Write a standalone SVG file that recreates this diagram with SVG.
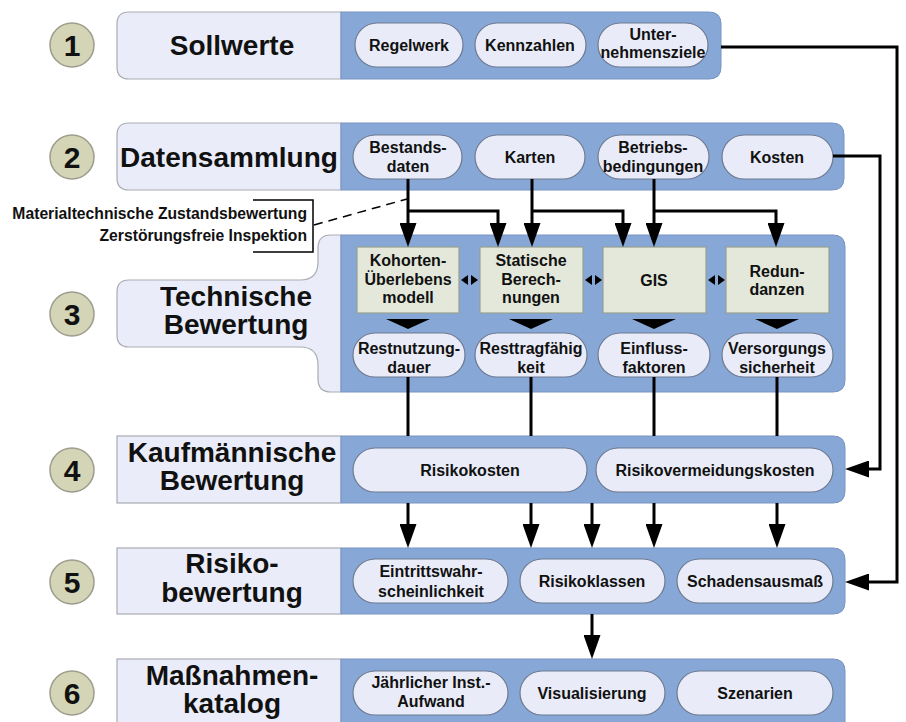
<svg xmlns="http://www.w3.org/2000/svg" width="906" height="722" viewBox="0 0 906 722">
<defs>
<marker id="ah" markerUnits="userSpaceOnUse" markerWidth="24" markerHeight="17" viewBox="0 0 24 17" refX="2" refY="8.5" orient="auto">
<path d="M0,0 L24,8.5 L0,17 Z" fill="#000"/>
</marker>
</defs>
<style>
text{font-family:"Liberation Sans",Arial,sans-serif;font-weight:bold;fill:#111;text-anchor:middle}
.big{font-size:28px}
.num{font-size:30px}
.sm{font-size:16px}
.ann{font-size:15.7px;text-anchor:end}
.circ{fill:#d3d5b6;stroke:#9c9d8c;stroke-width:1.5}
.lite{fill:#eaedf9;stroke:#a9abb3;stroke-width:1.2}
.blue{fill:#87a7d6;stroke:#7895c3;stroke-width:1}
.pill{fill:#e9ecf8;stroke:#6f7a90;stroke-width:1.2}
.grn{fill:#e3e8da;stroke:#96a092;stroke-width:1.2}
.con{fill:none;stroke:#000;stroke-width:3}
.arr{marker-end:url(#ah)}
.tri{fill:#000}
</style>
<rect width="906" height="722" fill="#fff"/>

<g id="row1">
<circle class="circ" cx="72" cy="45" r="22"/>
<text class="num" x="72" y="56">1</text>
<path class="lite" d="M341,12 H129 Q117,12 117,24 V67 Q117,79 129,79 H341 Z"/>
<text class="big" x="232" y="55">Sollwerte</text>
<path class="blue" d="M341,12 H709 Q721,12 721,24 V67 Q721,79 709,79 H341 Z"/>
<g id="regelwerk"><rect class="pill" x="355" y="23" width="108" height="44" rx="22"/><text class="sm" x="409" y="51">Regelwerk</text></g>
<g id="kennzahlen"><rect class="pill" x="475" y="23" width="111" height="44" rx="22"/><text class="sm" x="530" y="51">Kennzahlen</text></g>
<g id="unternehmensziele"><rect class="pill" x="598" y="23" width="110" height="44" rx="22"/><text class="sm" x="653" y="40">Unter-</text><text class="sm" x="653" y="58">nehmensziele</text></g>
</g>

<g id="row2">
<circle class="circ" cx="72" cy="157" r="22"/>
<text class="num" x="72" y="168">2</text>
<path class="lite" d="M341,123 H129 Q117,123 117,135 V178 Q117,190 129,190 H341 Z"/>
<text class="big" x="229" y="167">Datensammlung</text>
<path class="blue" d="M341,123 H832 Q844,123 844,135 V178 Q844,190 832,190 H341 Z"/>
<g id="bestandsdaten"><rect class="pill" x="353" y="135" width="109" height="44" rx="22"/><text class="sm" x="408" y="153">Bestands-</text><text class="sm" x="408" y="172">daten</text></g>
<g id="karten"><rect class="pill" x="475" y="135" width="110" height="44" rx="22"/><text class="sm" x="530" y="163">Karten</text></g>
<g id="betriebsbedingungen"><rect class="pill" x="598" y="135" width="111" height="44" rx="22"/><text class="sm" x="653" y="153">Betriebs-</text><text class="sm" x="653" y="172">bedingungen</text></g>
<g id="kosten"><rect class="pill" x="722" y="135" width="111" height="44" rx="22"/><text class="sm" x="777" y="163">Kosten</text></g>
</g>

<g id="annotation">
<text class="ann" x="307" y="219">Materialtechnische Zustandsbewertung</text>
<text class="ann" x="307" y="241">Zerstörungsfreie Inspektion</text>
<path d="M253,200 H313 V252 H253" fill="none" stroke="#000" stroke-width="1.5"/>
</g>

<g id="row3">
<circle class="circ" cx="72" cy="314" r="22"/>
<text class="num" x="72" y="325">3</text>
<path class="lite" d="M341,235 H331 Q318,235 318,248 V262 Q318,280 300,280 H129 Q117,280 117,292 V335 Q117,347 129,347 H300 Q318,347 318,365 V379 Q318,392 331,392 H341 Z"/>
<text class="big" x="236" y="306">Technische</text>
<text class="big" x="236" y="334">Bewertung</text>
<path class="blue" d="M341,235 H833 Q845,235 845,247 V380 Q845,392 833,392 H341 Z"/>
<g id="kohorten"><rect class="grn" x="357" y="247" width="102" height="66"/><text class="sm" x="408" y="266">Kohorten-</text><text class="sm" x="408" y="285">Überlebens</text><text class="sm" x="408" y="303">modell</text></g>
<g id="statische"><rect class="grn" x="480" y="247" width="103" height="66"/><text class="sm" x="531" y="266">Statische</text><text class="sm" x="531" y="285">Berech-</text><text class="sm" x="531" y="303">nungen</text></g>
<g id="gis"><rect class="grn" x="603" y="247" width="103" height="66"/><text class="sm" x="654" y="286">GIS</text></g>
<g id="redundanzen"><rect class="grn" x="726" y="247" width="103" height="66"/><text class="sm" x="777" y="277">Redun-</text><text class="sm" x="777" y="295">danzen</text></g>
<g id="restnutzungsdauer"><rect class="pill" x="353" y="333" width="112" height="44" rx="22"/><text class="sm" x="409" y="354">Restnutzung-</text><text class="sm" x="409" y="373">dauer</text></g>
<g id="resttragfaehigkeit"><rect class="pill" x="475" y="333" width="112" height="44" rx="22"/><text class="sm" x="531" y="354">Resttragfähig</text><text class="sm" x="531" y="373">keit</text></g>
<g id="einflussfaktoren"><rect class="pill" x="598" y="333" width="112" height="44" rx="22"/><text class="sm" x="654" y="354">Einfluss-</text><text class="sm" x="654" y="373">faktoren</text></g>
<g id="versorgungssicherheit"><rect class="pill" x="722" y="333" width="111" height="44" rx="22"/><text class="sm" x="777" y="354">Versorgungs</text><text class="sm" x="777" y="373">sicherheit</text></g>
</g>

<g id="row4">
<circle class="circ" cx="72" cy="470" r="22"/>
<text class="num" x="72" y="481">4</text>
<rect class="lite" x="117" y="436" width="224" height="67"/>
<text class="big" x="232" y="462">Kaufmännische</text>
<text class="big" x="232" y="490">Bewertung</text>
<path class="blue" d="M341,436 H833 Q845,436 845,448 V491 Q845,503 833,503 H341 Z"/>
<g id="risikokosten"><rect class="pill" x="353" y="448" width="234" height="44" rx="22"/><text class="sm" x="470" y="476">Risikokosten</text></g>
<g id="risikovermeidungskosten"><rect class="pill" x="596" y="448" width="237" height="44" rx="22"/><text class="sm" x="715" y="476">Risikovermeidungskosten</text></g>
</g>

<g id="row5">
<circle class="circ" cx="72" cy="582" r="22"/>
<text class="num" x="72" y="593">5</text>
<rect class="lite" x="117" y="548" width="224" height="66"/>
<text class="big" x="232" y="573">Risiko-</text>
<text class="big" x="232" y="602">bewertung</text>
<path class="blue" d="M341,548 H833 Q845,548 845,560 V602 Q845,614 833,614 H341 Z"/>
<g id="eintrittswahrscheinlichkeit"><rect class="pill" x="353" y="559" width="155" height="44" rx="22"/><text class="sm" x="431" y="577">Eintrittswahr-</text><text class="sm" x="431" y="597">scheinlichkeit</text></g>
<g id="risikoklassen"><rect class="pill" x="520" y="559" width="145" height="44" rx="22"/><text class="sm" x="592" y="587">Risikoklassen</text></g>
<g id="schadensausmass"><rect class="pill" x="677" y="559" width="156" height="44" rx="22"/><text class="sm" x="755" y="587">Schadensausmaß</text></g>
</g>

<g id="row6">
<circle class="circ" cx="72" cy="693" r="22"/>
<text class="num" x="72" y="704">6</text>
<rect class="lite" x="117" y="659" width="224" height="68"/>
<text class="big" x="232" y="685">Maßnahmen-</text>
<text class="big" x="232" y="713">katalog</text>
<path class="blue" d="M341,659 H833 Q845,659 845,671 V727 H341 Z"/>
<g id="jaehrlicher"><rect class="pill" x="353" y="671" width="155" height="44" rx="22"/><text class="sm" x="431" y="688">Jährlicher Inst.-</text><text class="sm" x="431" y="707">Aufwand</text></g>
<g id="visualisierung"><rect class="pill" x="520" y="671" width="145" height="44" rx="22"/><text class="sm" x="592" y="699">Visualisierung</text></g>
<g id="szenarien"><rect class="pill" x="677" y="671" width="156" height="44" rx="22"/><text class="sm" x="755" y="699">Szenarien</text></g>
</g>

<g id="connectors">
<path d="M314,225 L407,199" fill="none" stroke="#000" stroke-width="1.5" stroke-dasharray="9,6"/>
<path class="con arr" d="M408,179 V225"/>
<path class="con arr" d="M408,211 H498 V225"/>
<path class="con arr" d="M532,179 V225"/>
<path class="con arr" d="M532,211 H623 V225"/>
<path class="con arr" d="M654,179 V225"/>
<path class="con arr" d="M654,211 H776 V225"/>
<path class="con arr" d="M721,47 H897 V582 H867"/>
<path class="con arr" d="M833,156 H880 V469 H867"/>
<polygon class="tri" points="386,319 430,319 408,329"/>
<polygon class="tri" points="509,319 553,319 531,329"/>
<polygon class="tri" points="632,319 676,319 654,329"/>
<polygon class="tri" points="755,319 799,319 777,329"/>
<polygon class="tri" points="461,280 468,275 468,285"/>
<polygon class="tri" points="471,275 478,280 471,285"/>
<polygon class="tri" points="585,280 592,275 592,285"/>
<polygon class="tri" points="595,275 602,280 595,285"/>
<polygon class="tri" points="708,280 715,275 715,285"/>
<polygon class="tri" points="718,275 725,280 718,285"/>
<path class="con" d="M408,377 V436 M531,377 V436 M654,377 V436 M777,377 V436"/>
<path class="con arr" d="M408,503 V526"/>
<path class="con arr" d="M531,503 V526"/>
<path class="con arr" d="M592,503 V526"/>
<path class="con arr" d="M654,503 V526"/>
<path class="con arr" d="M777,503 V526"/>
<path class="con arr" d="M592,614 V637"/>
</g>
</svg>
